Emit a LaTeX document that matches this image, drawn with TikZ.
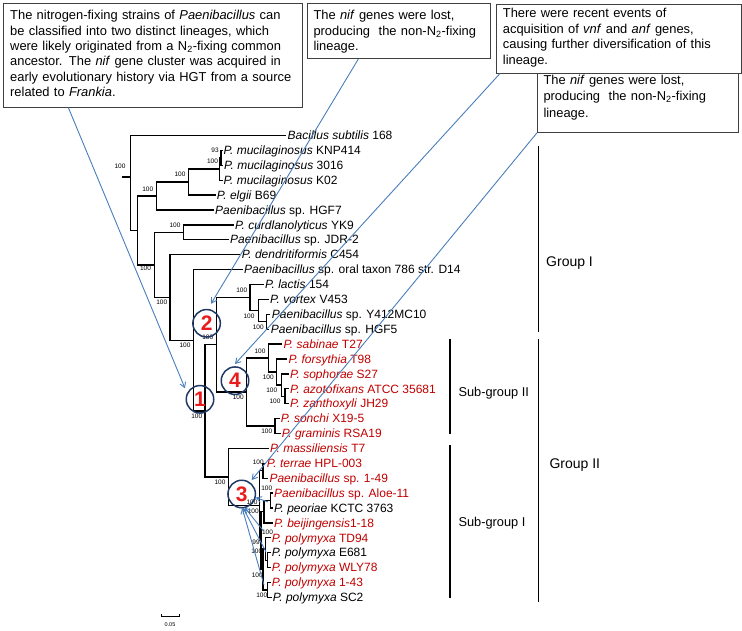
\documentclass[tikz,border=0pt]{standalone}
\usepackage{fontspec}
\setmainfont{Liberation Sans}
\usetikzlibrary{arrows.meta,calc}
\definecolor{leafred}{RGB}{192,0,0}
\definecolor{numred}{RGB}{232,28,28}
\definecolor{navy}{RGB}{31,56,100}
\definecolor{arrblue}{RGB}{74,126,187}
\definecolor{framegray}{RGB}{64,64,64}
\newcommand{\leafnode}[5]{\node[leaflbl,text=#4] (#1) at (#2,#3+4.2) {#5};}
\begin{document}
\begin{tikzpicture}[x=1pt,y=-1pt,
  tree/.style={line width=1.3pt, line cap=rect, black},
  leaflbl/.style={anchor=base west, inner sep=0pt, font=\fontsize{12}{13}\selectfont},
  bs/.style={inner sep=0pt, font=\fontsize{6.5}{7}\selectfont},
  boxframe/.style={draw=framegray, line width=0.8pt, fill=white, anchor=north west, inner sep=0pt},
  boxtxt/.style={anchor=north west, inner sep=0pt, align=left},
  circ/.style={circle, draw=navy, line width=1.5pt, minimum size=27.5pt, inner sep=0pt, text=numred, font=\fontsize{21}{21}\selectfont\bfseries},
  bluearr/.style={draw=arrblue, line width=0.9pt, -{Straight Barb[length=5pt,width=6pt]}},
  brk/.style={line width=1.2pt, black},
  grp/.style={anchor=west, inner sep=0pt, font=\fontsize{14}{16}\selectfont},
  sgrp/.style={anchor=west, inner sep=0pt, font=\fontsize{12.8}{15}\selectfont}]
\useasboundingbox (0,0) rectangle (742,631);

% ---------------- tree branches ----------------
\begin{scope}[tree]
% root
\draw (122.7,177) -- (130.5,177);
\draw (130.5,135.5) -- (130.5,230.5);
\draw (130.5,135.5) -- (285,135.5);
\draw (130.5,230.5) -- (137.5,230.5);
\draw (137.5,196) -- (137.5,264.9);
% B
\draw (137.5,196) -- (156.7,196);
\draw (156.7,182.05) -- (156.7,210);
\draw (156.7,210) -- (213,210);
% D
\draw (156.7,182.05) -- (188.3,182.05);
\draw (188.3,169) -- (188.3,195.1);
\draw (188.3,195.1) -- (215,195.1);
% E, E2
\draw (188.3,169) -- (219.5,169);
\draw (219.5,157.85) -- (219.5,180.2);
\draw (219.5,180.2) -- (222,180.2);
\draw (219.5,157.85) -- (221,157.85);
\draw (221,150.4) -- (221,165.3);
\draw (221,150.4) -- (222,150.4);
\draw (221,165.3) -- (222.3,165.3);
% C
\draw (137.5,264.9) -- (154.3,264.9);
\draw (154.3,232.35) -- (154.3,297.5);
% F
\draw (154.3,232.35) -- (183.3,232.35);
\draw (183.3,224.9) -- (183.3,239.8);
\draw (183.3,224.9) -- (233,224.9);
\draw (183.3,239.8) -- (228,239.8);
% G
\draw (154.3,297.5) -- (170,297.5);
\draw (170,254.7) -- (170,340.25);
\draw (170,254.7) -- (239.5,254.7);
% H
\draw (170,340.25) -- (193.3,340.25);
\draw (193.3,269.6) -- (193.3,410.9);
\draw (193.3,269.6) -- (242,269.6);
% L
\draw (193.3,410.9) -- (205,410.9);
\draw (205,344.8) -- (205,477.05);
% K
\draw (205,344.8) -- (216.7,344.8);
\draw (216.7,297.54) -- (216.7,392.06);
% I clade
\draw (216.7,297.54) -- (250,297.54);
\draw (250,284.5) -- (250,310.58);
\draw (250,284.5) -- (263,284.5);
\draw (250,310.58) -- (258.5,310.58);
\draw (258.5,299.4) -- (258.5,321.75);
\draw (258.5,299.4) -- (268,299.4);
\draw (258.5,321.75) -- (266.5,321.75);
\draw (266.5,314.3) -- (266.5,329.2);
\draw (266.5,314.3) -- (269.5,314.3);
\draw (266.5,329.2) -- (268.5,329.2);
% sub-group II
\draw (216.7,392.06) -- (246.7,392.06);
\draw (246.7,358.07) -- (246.7,426.05);
\draw (246.7,358.07) -- (268.7,358.07);
\draw (268.7,344.1) -- (268.7,372.04);
\draw (268.7,344.1) -- (281.5,344.1);
\draw (268.7,372.04) -- (276.7,372.04);
\draw (276.7,359) -- (276.7,385.08);
\draw (276.7,359) -- (286.5,359);
\draw (276.7,385.08) -- (281.7,385.08);
\draw (281.7,373.9) -- (281.7,396.25);
\draw (281.7,373.9) -- (288,373.9);
\draw (281.7,396.25) -- (285,396.25);
\draw (285,388.8) -- (285,403.7);
\draw (285,388.8) -- (288,388.8);
\draw (285,403.7) -- (288,403.7);
\draw (246.7,426.05) -- (275,426.05);
\draw (275,418.6) -- (275,433.5);
\draw (275,418.6) -- (279,418.6);
\draw (275,433.5) -- (280,433.5);
% sub-group I
\draw (205,477.05) -- (228.3,477.05);
\draw (228.3,448.4) -- (228.3,505.7);
\draw (228.3,448.4) -- (268,448.4);
\draw (228.3,505.7) -- (259.5,505.7);
\draw (259.5,470.75) -- (259.5,540.6);
\draw (259.5,470.75) -- (263,470.75);
\draw (263,463.3) -- (263,478.2);
\draw (263,463.3) -- (265,463.3);
\draw (263,478.2) -- (267.5,478.2);
\draw (259.5,540.6) -- (261,540.6);
\draw (261,511.7) -- (261,569.5);
\draw (261,511.7) -- (264,511.7);
\draw (264,500.55) -- (264,522.9);
\draw (264,522.9) -- (272,522.9);
\draw (264,500.55) -- (270.5,500.55);
\draw (270.5,493.1) -- (270.5,508);
\draw (270.5,493.1) -- (272,493.1);
\draw (270.5,508) -- (272,508);
\draw (261,569.5) -- (263,569.5);
\draw (263,548.98) -- (263,589.95);
\draw (263,548.98) -- (265.5,548.98);
\draw (265.5,537.8) -- (265.5,560.15);
\draw (265.5,537.8) -- (270,537.8);
\draw (265.5,560.15) -- (267.5,560.15);
\draw (267.5,552.7) -- (267.5,567.6);
\draw (267.5,552.7) -- (270,552.7);
\draw (267.5,567.6) -- (270,567.6);
\draw (263,589.95) -- (267.5,589.95);
\draw (267.5,582.5) -- (267.5,597.4);
\draw (267.5,582.5) -- (270,582.5);
\draw (267.5,597.4) -- (271,597.4);
\end{scope}

% ---------------- leaf labels ----------------
\leafnode{l0}{287.5}{135.5}{black}{\textit{Bacillus subtilis} 168}
\leafnode{l1}{223.5}{150.4}{black}{\textit{P. mucilaginosus} KNP414}
\leafnode{l2}{224}{165.3}{black}{\textit{P. mucilaginosus} 3016}
\leafnode{l3}{223.5}{180.2}{black}{\textit{P. mucilaginosus} K02}
\leafnode{l4}{216.7}{195.1}{black}{\textit{P. elgii} B69}
\leafnode{l5}{215}{210}{black}{\textit{Paenibacillus} sp. HGF7}
\leafnode{l6}{235}{224.9}{black}{\textit{P. curdlanolyticus} YK9}
\leafnode{l7}{230}{239.8}{black}{\textit{Paenibacillus} sp. JDR-2}
\leafnode{l8}{241.7}{254.7}{black}{\textit{P. dendritiformis} C454}
\leafnode{l9}{244}{269.6}{black}{\textit{Paenibacillus} sp. oral taxon 786 str. D14}
\leafnode{l10}{265}{284.5}{black}{\textit{P. lactis} 154}
\leafnode{l11}{270}{299.4}{black}{\textit{P. vortex} V453}
\leafnode{l12}{271.7}{314.3}{black}{\textit{Paenibacillus} sp. Y412MC10}
\leafnode{l13}{270.7}{329.2}{black}{\textit{Paenibacillus} sp. HGF5}
\leafnode{l14}{283.3}{344.1}{leafred}{\textit{P. sabinae} T27}
\leafnode{l15}{288.3}{359}{leafred}{\textit{P. forsythia} T98}
\leafnode{l16}{290}{373.9}{leafred}{\textit{P. sophorae} S27}
\leafnode{l17}{290}{388.8}{leafred}{\textit{P. azotofixans} ATCC 35681}
\leafnode{l18}{290}{403.7}{leafred}{\textit{P. zanthoxyli} JH29}
\leafnode{l19}{280.7}{418.6}{leafred}{\textit{P. sonchi} X19-5}
\leafnode{l20}{281.7}{433.5}{leafred}{\textit{P. graminis} RSA19}
\leafnode{l21}{270}{448.4}{leafred}{\textit{P. massiliensis} T7}
\leafnode{l22}{266.7}{463.3}{leafred}{\textit{P. terrae} HPL-003}
\leafnode{l23}{269.3}{478.2}{leafred}{\textit{Paenibacillus} sp. 1-49}
\leafnode{l24}{274}{493.1}{leafred}{\textit{Paenibacillus} sp. Aloe-11}
\leafnode{l25}{274}{508}{black}{\textit{P. peoriae} KCTC 3763}
\leafnode{l26}{274}{522.9}{leafred}{\textit{P. beijingensis}1-18}
\leafnode{l27}{271.7}{537.8}{leafred}{\textit{P. polymyxa} TD94}
\leafnode{l28}{271.7}{552.7}{black}{\textit{P. polymyxa} E681}
\leafnode{l29}{271.7}{567.6}{leafred}{\textit{P. polymyxa} WLY78}
\leafnode{l30}{271.7}{582.5}{leafred}{\textit{P. polymyxa} 1-43}
\leafnode{l31}{272.7}{597.4}{black}{\textit{P. polymyxa} SC2}

% ---------------- bootstrap values ----------------
\node[bs] (bsroot) at (120,166) {100};
\node[bs] (bsB) at (147.7,189) {100};
\node[bs] (bsD) at (180,174) {100};
\node[bs] (bsE) at (212.5,161.5) {100};
\node[bs] (bsE2) at (215,150) {93};
\node[bs] (bsC) at (145.5,268.5) {100};
\node[bs] (bsF) at (175,225) {100};
\node[bs] (bsG) at (161.7,302.3) {100};
\node[bs] (bsH) at (185,345.5) {100};
\node[bs] (bsL) at (196.7,416.7) {100};
\node[bs] (bsK) at (207.7,337) {100};
\node[bs] (bsI) at (241.7,290) {100};
\node[bs] (bsI2) at (249,316) {100};
\node[bs] (bsI3) at (258.3,327) {100};
\node[bs] (bsN4) at (238.3,397) {100};
\node[bs] (bsS1) at (260,351.7) {100};
\node[bs] (bsS2) at (268.3,377.3) {100};
\node[bs] (bsS3) at (271.7,390) {100};
\node[bs] (bsS4) at (275,401.7) {100};
\node[bs] (bsS5) at (266.7,431.7) {100};
\node[bs] (bsP) at (220,482.7) {100};
\node[bs] (bsQ1) at (258.3,462.3) {100};
\node[bs] (bsQ3) at (266.7,488.3) {100};
\node[bs] (bsR1) at (252,502) {100};
\node[bs] (bsR) at (253.3,511.7) {100};
\node[bs] (bsT1) at (267.5,532) {100};
\node[bs] (bsT3) at (256,542.5) {99};
\node[bs] (bsT) at (256.7,551) {100};
\node[bs] (bsT2) at (257.3,575) {100};
\node[bs] (bsSC) at (261.7,595) {100};

% ---------------- scale bar ----------------
\draw[line width=0.6pt] (161.7,614) -- (161.7,616.7) -- (179.3,616.7) -- (179.3,614);
\node[inner sep=0pt, font=\fontsize{5.5}{6}\selectfont] (scl) at (170,624.5) {0.05};

% ---------------- brackets ----------------
\draw[brk] (538.3,146) -- (538.3,331.7);
\draw[brk] (538.3,339.3) -- (538.3,601.7);
\draw[brk] (450,339.3) -- (450,434);
\draw[brk] (450,445) -- (450,598.3);
\node[grp] (gI) at (546,263.3) {Group I};
\node[grp] (gII) at (549.3,465) {Group II};
\node[sgrp] (sgII) at (458.3,393.3) {Sub-group II};
\node[sgrp] (sgI) at (458.3,523.3) {Sub-group I};

% ---------------- boxes ----------------
\node[boxframe, minimum width=298.4pt, minimum height=103.4pt] (b1) at (3.3,3.3) {};
\node[boxframe, minimum width=183.3pt, minimum height=55pt] (b2) at (306.7,3.3) {};
\node[boxframe, minimum width=201.3pt, minimum height=59.3pt] (b4) at (537,72.7) {};
\node[boxframe, minimum width=245pt, minimum height=68.7pt] (b3) at (496,4) {};
\node[boxtxt, text width=300pt, font=\fontsize{12.9}{15.3}\selectfont] (b1t) at (10,8.9)
 {\strut The nitrogen-fixing strains of \textit{Paenibacillus} can\\
  be classified into two distinct lineages, which\\
  were likely originated from a N\textsubscript{2}-fixing common\\
  ancestor. The \textit{nif} gene cluster was acquired in\\
  early evolutionary history via HGT from a source\\
  related to \textit{Frankia}.};
\node[boxtxt, text width=200pt, font=\fontsize{12.9}{15.8}\selectfont] (b2t) at (313.3,8.1)
 {\strut The \textit{nif} genes were lost,\\
  producing\ \ the non-N\textsubscript{2}-fixing\\
  lineage.};
\node[boxtxt, text width=240pt, font=\fontsize{12.9}{15.5}\selectfont] (b3t) at (502.7,6.5)
 {\strut There were recent events of\\
  acquisition of \textit{vnf} and \textit{anf} genes,\\
  causing further diversification of this\\
  lineage.};
\node[boxtxt, text width=195pt, font=\fontsize{12.9}{16.5}\selectfont] (b4t) at (543.3,72.5)
 {\strut The \textit{nif} genes were lost,\\
  producing\ \ the non-N\textsubscript{2}-fixing\\
  lineage.};

% ---------------- circled events ----------------
\node[circ] (c1) at (200,399.3) {1};
\node[circ] (c2) at (206.6,323.3) {2};
\node[circ] (c3) at (241.7,494) {3};
\node[circ] (c4) at (235,380.7) {4};

% ---------------- connectors ----------------
\coordinate (s1) at ($(b1.south west)+(65,0)$);
\coordinate (s2) at ($(b2.south west)+(51.6,0)$);
\coordinate (s3) at ($(b3.south west)+(4,0)$);
\coordinate (s4) at ($(b4.south west)+(0,0)$);
\coordinate (e1) at ($(c1)+(-15,-11)$);
\coordinate (e2) at ($(c2)+(4.4,-19.5)$);
\coordinate (e3) at ($(c4)+(0,-16.7)$);
\coordinate (e4) at ($(c3)+(10,-14)$);
\draw[bluearr] (s1) -- (e1);
\draw[bluearr] (s2) -- (e2);
\draw[bluearr] (s3) -- (e3);
\draw[bluearr] (s4) -- (e4);
% arrows inside sub-group I
\coordinate (p1) at (268,502);
\coordinate (p2) at (263.5,531);
\coordinate (p3) at (266,552);
\coordinate (p4) at (264,585);
\draw[bluearr] (p1) -- ($(c3)+(14,3.5)$);
\draw[bluearr] (p2) -- ($(c3)+(3,13.5)$);
\draw[bluearr] (p3) -- ($(c3)+(1.5,14)$);
\draw[bluearr] (p4) -- ($(c3)+(0.5,14)$);
\end{tikzpicture}
\end{document}
